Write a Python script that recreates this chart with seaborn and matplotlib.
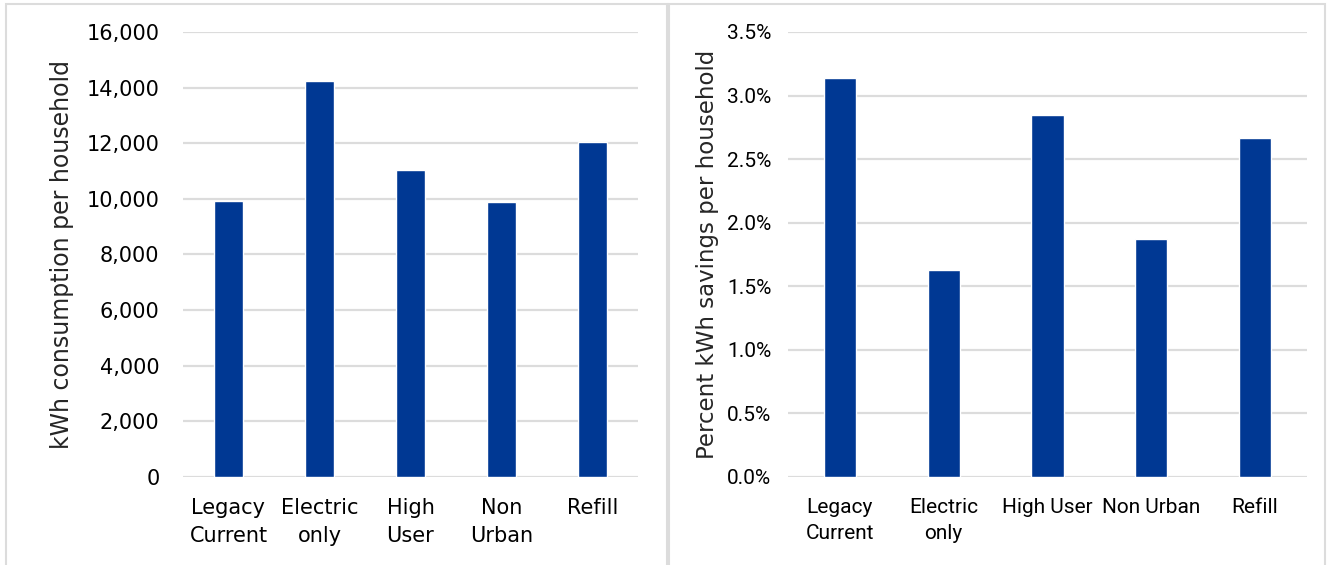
import matplotlib
matplotlib.use("Agg")
import matplotlib.pyplot as plt
import seaborn as sns
import pandas as pd
from matplotlib.patches import Rectangle
from matplotlib.ticker import FuncFormatter, MultipleLocator

# data
groups = ["Legacy Current", "Electric only", "High User", "Non Urban", "Refill"]
left_labels = ["Legacy\nCurrent", "Electric\nonly", "High\nUser", "Non\nUrban", "Refill"]
right_labels = ["Legacy\nCurrent", "Electric\nonly", "High User", "Non Urban", "Refill"]
kwh_consumption = [9940, 14240, 11020, 9890, 12050]
pct_savings = [3.135, 1.625, 2.845, 1.870, 2.665]

bar_color = "#003893"
grid_color = "#dcdcdc"

sns.set_style("white")
plt.rcParams["font.family"] = ["DejaVu Sans"]

fig = plt.figure(figsize=(13.28, 5.65), dpi=100)
ax1 = fig.add_axes([0.1378, 0.1558, 0.3426, 0.7876])
ax2 = fig.add_axes([0.5934, 0.1558, 0.3908, 0.7876])

df_left = pd.DataFrame({"group": groups, "value": kwh_consumption})
df_right = pd.DataFrame({"group": groups, "value": pct_savings})

sns.barplot(data=df_left, x="group", y="value", color=bar_color,
            saturation=1, width=0.32, ax=ax1, zorder=3)
sns.barplot(data=df_right, x="group", y="value", color=bar_color,
            saturation=1, width=0.31, ax=ax2, zorder=3)


def style(ax, labels, ylabel, family, fs_tick, ypad, xpad, fs_label, labelpad):
    for s in ax.spines.values():
        s.set_visible(False)
    ax.set_xlim(-0.5, 4.5)
    ax.grid(axis="y", color=grid_color, linewidth=1.6, zorder=0)
    ax.set_axisbelow(True)
    ax.tick_params(axis="both", length=0, colors="#000000")
    ax.tick_params(axis="y", pad=ypad)
    ax.tick_params(axis="x", pad=xpad)
    ax.set_xticks(range(len(labels)))
    ax.set_xticklabels(labels, linespacing=1.5, family=family, fontsize=fs_tick)
    for t in ax.get_yticklabels():
        t.set_family(family)
        t.set_fontsize(fs_tick)
    ax.set_xlabel("")
    ax.set_ylabel(ylabel, fontsize=fs_label, labelpad=labelpad, family="DejaVu Sans")


ax1.set_ylim(0, 16000)
ax1.yaxis.set_major_locator(MultipleLocator(2000))
ax1.yaxis.set_major_formatter(FuncFormatter(lambda v, p: f"{v:,.0f}"))
style(ax1, left_labels, "kWh consumption per household", "DejaVu Sans",
      15, 17, 15, 17, 9)

ax2.set_ylim(0, 3.5)
ax2.yaxis.set_major_locator(MultipleLocator(0.5))
ax2.yaxis.set_major_formatter(FuncFormatter(lambda v, p: f"{v:.1f}%"))
style(ax2, right_labels, "Percent kWh savings per household", "Roboto",
      15, 12, 15, 16.5, 6)

# panel frames
fig.patches.append(Rectangle((6 / 1328, -0.01), (667 - 6) / 1328, 1 - 4 / 565 + 0.01,
                             transform=fig.transFigure, fill=False,
                             edgecolor=grid_color, linewidth=1.5))
fig.patches.append(Rectangle((669 / 1328, -0.01), (1325 - 669) / 1328, 1 - 4 / 565 + 0.01,
                             transform=fig.transFigure, fill=False,
                             edgecolor=grid_color, linewidth=1.5))

fig.savefig("out.png", dpi=100)
